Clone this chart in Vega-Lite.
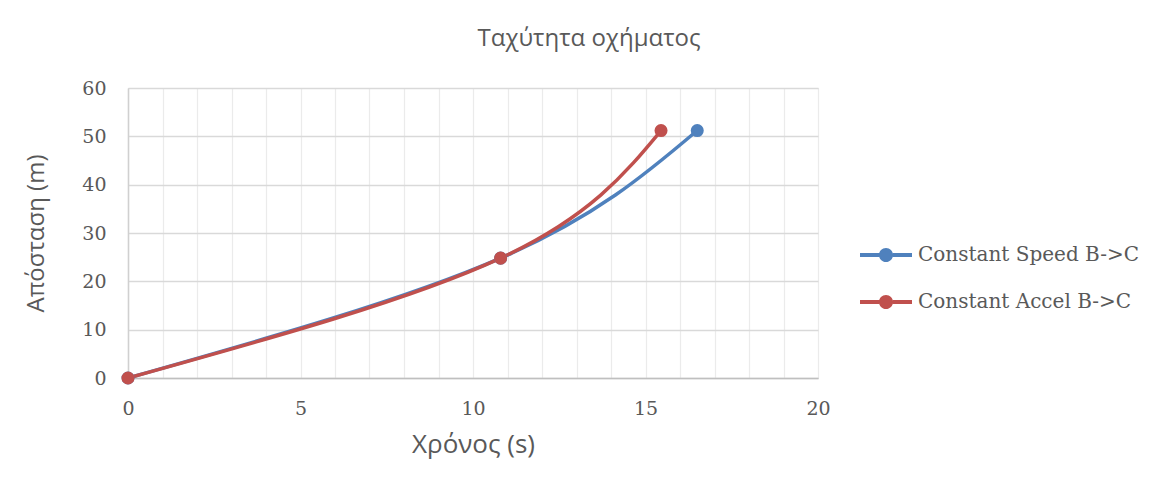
{
  "$schema": "https://vega.github.io/schema/vega-lite/v6.json",
  "width": 690,
  "height": 290,
  "autosize": {"type": "none"},
  "padding": {"left": 128, "top": 88, "right": 348, "bottom": 112},
  "background": "white",
  "title": {
    "text": "Ταχύτητα οχήματος",
    "font": "Open Sans",
    "fontSize": 24,
    "fontWeight": "normal",
    "color": "#595959",
    "anchor": "middle",
    "dx": 116,
    "offset": 28
  },
  "data": {
    "values": [
      {"series": "Constant Speed B->C", "t": 0, "d": 0},
      {"series": "Constant Speed B->C", "t": 10.8, "d": 24.8},
      {"series": "Constant Speed B->C", "t": 16.5, "d": 51.2},
      {"series": "Constant Accel B->C", "t": 0, "d": 0},
      {"series": "Constant Accel B->C", "t": 10.8, "d": 24.8},
      {"series": "Constant Accel B->C", "t": 15.45, "d": 51.2}
    ]
  },
  "encoding": {
    "x": {
      "field": "t",
      "type": "quantitative",
      "scale": {"domain": [0, 20], "nice": false, "zero": true},
      "axis": {
        "values": [0,1,2,3,4,5,6,7,8,9,10,11,12,13,14,15,16,17,18,19,20],
        "labelExpr": "datum.value % 5 === 0 ? datum.label : ''",
        "labelFlush": false,
        "grid": true,
        "gridColor": "#ebebeb",
        "gridWidth": 1.2,
        "ticks": false,
        "domainColor": "#bfbfbf",
        "domainWidth": 1.5,
        "labelFont": "DejaVu Serif",
        "labelFontSize": 19,
        "labelColor": "#595959",
        "labelPadding": 21,
        "title": "Χρόνος (s)",
        "titleFont": "Open Sans",
        "titleFontSize": 26,
        "titleFontWeight": "normal",
        "titleColor": "#595959",
        "titlePadding": 13
      }
    },
    "y": {
      "field": "d",
      "type": "quantitative",
      "scale": {"domain": [0, 60], "nice": false},
      "axis": {
        "values": [0, 10, 20, 30, 40, 50, 60],
        "labelFlush": false,
        "grid": true,
        "gridColor": "#d9d9d9",
        "gridWidth": 1.5,
        "ticks": false,
        "domainColor": "#d0d0d0",
        "domainWidth": 1.5,
        "labelFont": "DejaVu Serif",
        "labelFontSize": 19,
        "labelColor": "#595959",
        "labelPadding": 22,
        "title": "Απόσταση (m)",
        "titleFont": "Open Sans",
        "titleFontSize": 24,
        "titleFontWeight": "normal",
        "titleColor": "#595959",
        "titlePadding": 33
      }
    }
  },
  "layer": [
    {
      "mark": {"type": "line", "interpolate": "natural", "strokeWidth": 3.5},
      "encoding": {
        "stroke": {
          "field": "series",
          "type": "nominal",
          "sort": ["Constant Speed B->C", "Constant Accel B->C"],
          "scale": {"domain": ["Constant Speed B->C", "Constant Accel B->C"], "range": ["#4f81bd", "#c0504d"]}
        }
      }
    },
    {
      "mark": {"type": "point", "filled": true, "size": 170, "opacity": 1, "shape": "circle"},
      "encoding": {
        "fill": {
          "field": "series",
          "type": "nominal",
          "sort": ["Constant Speed B->C", "Constant Accel B->C"],
          "scale": {"domain": ["Constant Speed B->C", "Constant Accel B->C"], "range": ["#4f81bd", "#c0504d"]},
          "legend": {
            "title": null,
            "orient": "none",
            "legendX": 732,
            "legendY": 141,
            "symbolType": "M-1,-0.075H-0.265V0.075H-1Z M0.265,-0.075H1V0.075H0.265Z M0.27,0A0.27,0.27 0 1,1 -0.27,0A0.27,0.27 0 1,1 0.27,0Z",
            "symbolSize": 2704,
            "symbolStrokeWidth": 0,
            "symbolOpacity": 1,
            "labelFont": "DejaVu Serif",
            "labelFontSize": 20,
            "labelColor": "#595959",
            "labelOffset": 6,
            "labelLimit": 400,
            "rowPadding": 11
          }
        }
      }
    }
  ]
}
